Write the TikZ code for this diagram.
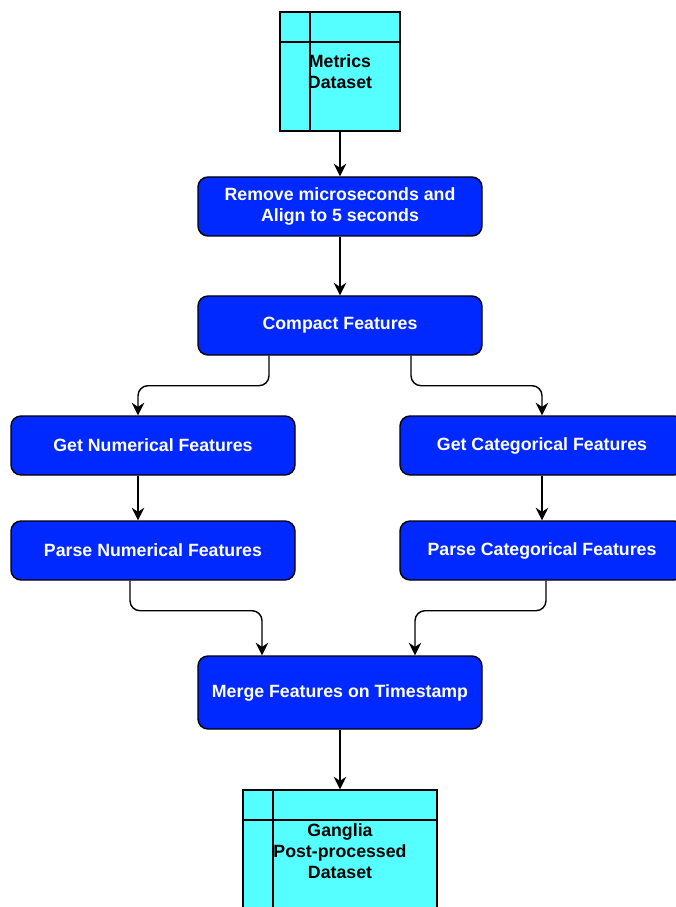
\documentclass[tikz,border=0pt]{standalone}
\usepackage{fontspec}
\setmainfont{Liberation Sans}
\usetikzlibrary{arrows.meta,positioning}
\definecolor{procblue}{RGB}{0,41,255}
\definecolor{datacyan}{RGB}{85,255,255}

\begin{document}
\begin{tikzpicture}[>={Stealth[length=2.5mm,width=2.5mm]},node distance=2cm,on grid,line width=0.8pt]
       \tikzstyle{process}=[draw,fill=procblue,rounded corners=0.2cm,minimum width=5.68cm,minimum height=1.18cm,align=center,text=white,font=\fontsize{10.1}{11.9}\selectfont\bfseries]
       \tikzstyle{dataset}=[draw,fill=datacyan,align=center,font=\fontsize{10.1}{11.9}\selectfont\bfseries,
         path picture={\draw ([xshift=0.6cm]path picture bounding box.north west) -- ([xshift=0.6cm]path picture bounding box.south west);
                       \draw ([yshift=-0.6cm]path picture bounding box.north west) -- ([yshift=-0.6cm]path picture bounding box.north east);}]
       \tikzstyle{elbow}=[rounded corners=0.2cm]

       \useasboundingbox (0,0) rectangle (13.5,-18.14);

       \node[dataset,minimum width=2.4cm,minimum height=2.38cm] (ds_0) at (6.8,-1.43) {Metrics\\Dataset};
       \node[process] (p_1) [below =2.7cm of ds_0] {Remove microseconds and\\Align to 5 seconds};
       \node[process] (p_2) [below =2.38cm of p_1] {Compact Features};
       \node[process] (p_3) [below left =2.4cm and 3.74cm of p_2] {Get Numerical Features};
       \node[process] (p_4) [below right =2.4cm and 4.04cm of p_2] {Get Categorical Features};
       \node[process] (p_5) [below =2.1cm of p_3] {Parse Numerical Features};
       \node[process] (p_6) [below =2.1cm of p_4] {Parse Categorical Features};
       \node[process,minimum height=1.46cm] (p_7) [below =7.34cm of p_2] {Merge Features on Timestamp};
       \node[dataset,minimum width=3.88cm,minimum height=2.44cm] (ds_1) [below =3.17cm of p_7] {Ganglia\\Post-processed\\Dataset};

       \path[->]
       (ds_0) edge (p_1)
       (p_1) edge (p_2)
       ([xshift=-0.3cm]p_3.south) edge ([xshift=-0.3cm]p_5.north)
       (p_4) edge (p_6)
       (p_7) edge (ds_1);

       \draw[->] ([xshift=-1.42cm]p_2.south) {[elbow] -- ++(0,-0.6) -| ([xshift=-0.3cm]p_3.north)};
       \draw[->] ([xshift=1.42cm]p_2.south) {[elbow] -- ++(0,-0.6) -| (p_4.north)};
       \draw[->] ([xshift=-0.46cm]p_5.south) {[elbow] -- ++(0,-0.6) -| ([xshift=-1.56cm]p_7.north)};
       \draw[->] ([xshift=0.08cm]p_6.south) {[elbow] -- ++(0,-0.6) -| ([xshift=1.5cm]p_7.north)};

     \end{tikzpicture}
\end{document}
